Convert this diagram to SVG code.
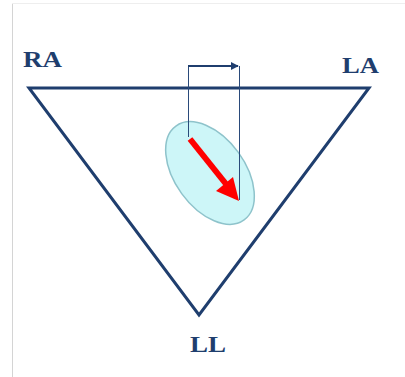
<svg xmlns="http://www.w3.org/2000/svg" width="405" height="377" viewBox="0 0 405 377">
<style>
.lbl{font-family:"Liberation Serif",serif;font-weight:bold;font-size:23px;fill:#1f3e6e}
.tri{fill:none;stroke:#1f3e6e;stroke-width:3;stroke-linejoin:miter}
.thin{stroke:#2a4a7a;stroke-width:1;fill:none}
</style>
<defs>
<marker id="nav" viewBox="0 0 10 10" refX="9" refY="5" markerWidth="4" markerHeight="4" orient="auto" markerUnits="strokeWidth"><path d="M0,0 L10,5 L0,10 z" fill="#1f3e6e"/></marker>
</defs>
<rect width="405" height="377" fill="#fff"/>
<line x1="12.5" y1="4" x2="12.5" y2="377" stroke="#d4d4d4" stroke-width="1"/>
<line x1="12" y1="3.5" x2="405" y2="3.5" stroke="#eeeeee" stroke-width="1"/>
<g id="triangle"><polygon class="tri" points="29,88 369,88 199,315"/></g>
<g id="heart">
<ellipse cx="210" cy="173" rx="58" ry="35" transform="rotate(54 210 173)" fill="#cdf6f8" stroke="#8ec3cb" stroke-width="1.5"/>
</g>
<g id="connectors">
<line class="thin" x1="188.5" y1="66" x2="188.5" y2="137"/>
<line class="thin" x1="239.5" y1="66" x2="239.5" y2="200"/>
<line x1="188" y1="66" x2="238" y2="66" stroke="#1f3e6e" stroke-width="2" marker-end="url(#nav)"/>
<line x1="190" y1="139" x2="226" y2="184" stroke="#ff0000" stroke-width="6"/>
<polygon points="239,201 216,191 233,177" fill="#ff0000"/>
</g>
<g id="RA"><text class="lbl" x="23" y="67" textLength="39" lengthAdjust="spacingAndGlyphs">RA</text></g>
<g id="LA"><text class="lbl" x="342" y="73" textLength="37" lengthAdjust="spacingAndGlyphs">LA</text></g>
<g id="LL"><text class="lbl" x="190" y="352" textLength="36" lengthAdjust="spacingAndGlyphs">LL</text></g>
</svg>
